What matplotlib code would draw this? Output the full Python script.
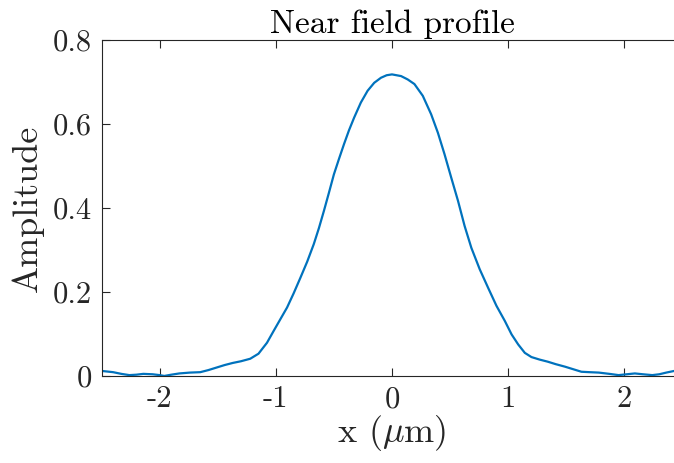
import matplotlib
matplotlib.use("Agg")
import matplotlib.pyplot as plt

# Sampled near-field amplitude profile
x_um = [-2.5, -2.4, -2.33, -2.26, -2.2, -2.14, -2.06, -2.0, -1.96, -1.9,
        -1.83, -1.74, -1.65, -1.58, -1.51, -1.44, -1.37, -1.3, -1.22, -1.149,
        -1.076, -1.019, -0.961, -0.903, -0.846, -0.788, -0.73, -0.673, -0.629, -0.586,
        -0.543, -0.5, -0.456, -0.413, -0.37, -0.326, -0.268, -0.21, -0.153, -0.095,
        -0.046, 0.0, 0.078, 0.135, 0.193, 0.265, 0.337, 0.395, 0.452, 0.51,
        0.568, 0.625, 0.683, 0.755, 0.827, 0.899, 0.971, 1.029, 1.086, 1.143,
        1.2, 1.27, 1.34, 1.41, 1.49, 1.56, 1.63, 1.7, 1.78, 1.87,
        1.95, 2.02, 2.09, 2.16, 2.24, 2.3, 2.36, 2.43, 2.5]
amplitude = [0.012, 0.009, 0.005, 0.002, 0.003, 0.005, 0.004, 0.002, 0.0, 0.003,
             0.006, 0.008, 0.009, 0.014, 0.020, 0.026, 0.031, 0.035, 0.041, 0.053,
             0.079, 0.107, 0.135, 0.163, 0.197, 0.234, 0.272, 0.314, 0.352, 0.393,
             0.436, 0.48, 0.517, 0.552, 0.585, 0.615, 0.651, 0.679, 0.698, 0.71,
             0.716, 0.718, 0.714, 0.706, 0.695, 0.667, 0.623, 0.579, 0.528, 0.472,
             0.417, 0.357, 0.305, 0.254, 0.21, 0.167, 0.131, 0.099, 0.075, 0.055,
             0.045, 0.039, 0.034, 0.028, 0.022, 0.016, 0.010, 0.009, 0.008, 0.005,
             0.002, 0.004, 0.006, 0.004, 0.002, 0.004, 0.008, 0.012, 0.016]

x_ticks = [-2, -1, 0, 1, 2]
x_ticklabels = ["-2", "-1", "0", "1", "2"]
y_ticks = [0, 0.2, 0.4, 0.6, 0.8]
y_ticklabels = ["0", "0.2", "0.4", "0.6", "0.8"]

plt.rcParams["font.family"] = ["cmr10", "DejaVu Serif"]
plt.rcParams["mathtext.fontset"] = "cm"
plt.rcParams["axes.unicode_minus"] = False
plt.rcParams["axes.formatter.use_mathtext"] = True

fig = plt.figure(figsize=(6.74, 4.63), dpi=100)
ax = fig.add_axes([0.1506, 0.188, 0.862, 0.7257])

ax.plot(x_um, amplitude, color="#0072BD", linewidth=1.6,
        solid_joinstyle="round", solid_capstyle="round")

ax.set_xlim(-2.5, 2.5)
ax.set_ylim(0, 0.8)
ax.set_xticks(x_ticks)
ax.set_xticklabels(x_ticklabels)
ax.set_yticks(y_ticks)
ax.set_yticklabels(y_ticklabels)

axis_color = "#262626"
for side in ax.spines.values():
    side.set_color(axis_color)
    side.set_linewidth(0.8)
ax.tick_params(direction="in", length=6, width=0.8, color=axis_color,
               labelsize=22, labelcolor=axis_color, top=True, right=True, pad=7)

ax.set_title("Near field profile", fontsize=24, color="black", pad=5)
ax.set_xlabel(r"x ($\mu$m)", fontsize=26, color=axis_color, labelpad=0)
ax.set_ylabel("Amplitude", fontsize=26, color=axis_color, labelpad=6)

fig.savefig("out.png", dpi=100)
